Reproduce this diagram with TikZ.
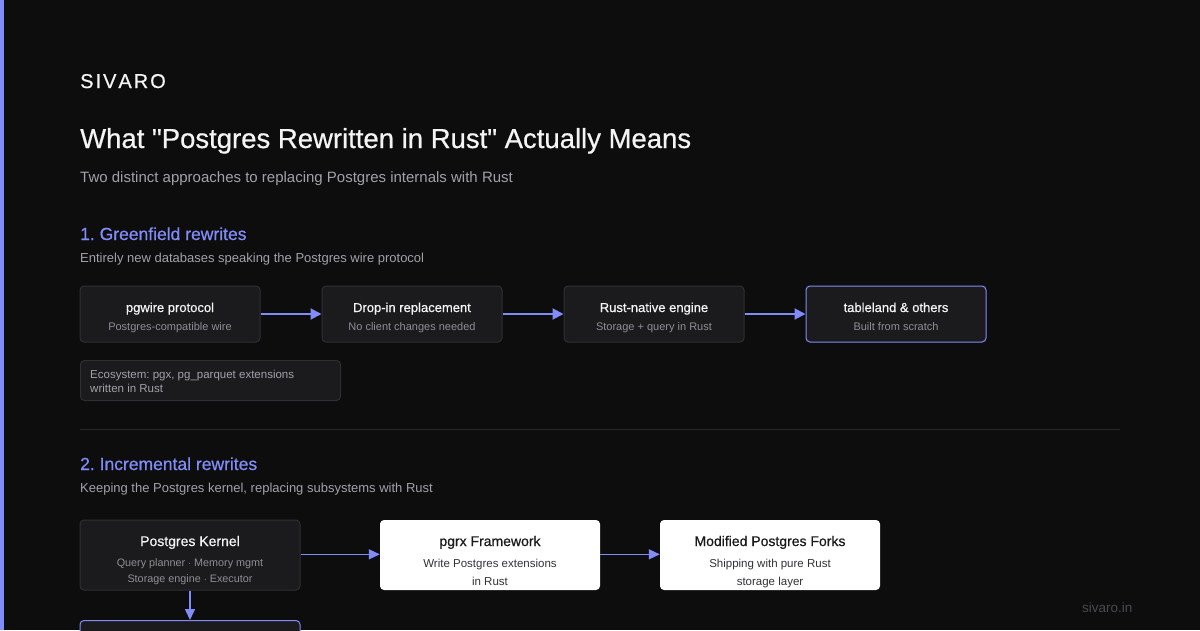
\documentclass[tikz,border=0pt]{standalone}
\usepackage{fontspec}
\setmainfont{Liberation Sans}
\newfontfamily\medfont[FakeBold=0.6]{Liberation Sans}
\usetikzlibrary{arrows.meta}
\frenchspacing
\definecolor{bgdark}{HTML}{0D0D0E}
\definecolor{accent}{HTML}{818CF8}
\definecolor{boxfill}{HTML}{1B1B1E}
\definecolor{boxline}{HTML}{2F2F33}
\definecolor{softwhite}{HTML}{F4F4F5}
\definecolor{mutedgray}{HTML}{A1A1AA}
\definecolor{boxgray}{HTML}{8E8E96}
\definecolor{rulegray}{HTML}{262628}
\definecolor{inktext}{HTML}{1A1A1A}
\definecolor{inksub}{HTML}{333336}
\definecolor{footgray}{HTML}{4A4A4E}
\tikzset{
  txt/.style={anchor=base west, inner sep=0pt},
  ctr/.style={anchor=base, inner sep=0pt},
  gbox/.style={draw=boxline, fill=boxfill, line width=1pt, rounded corners=4pt, inner sep=0pt},
  wbox/.style={fill=white, rounded corners=4pt, inner sep=0pt},
  flow/.style={draw=accent, line width=2pt, -{Triangle[length=11pt,width=11pt]}},
  thinflow/.style={draw=accent, line width=1.5pt, -{Triangle[length=11pt,width=10pt]}}
}
\begin{document}
\begin{tikzpicture}[x=1pt,y=-1pt]
\fill[bgdark] (0,0) rectangle (1200,630);
\useasboundingbox (0,0) rectangle (1200,630);
\clip (0,0) rectangle (1200,630);
\fill[accent] (0,0) rectangle (4,630);
% header
\node[txt, text=softwhite] (brand) at (80,88) {\fontsize{20}{24}\selectfont\medfont S\kern2pt I\kern2pt V\kern2pt A\kern2pt R\kern2pt O};
\node[txt, text=softwhite] (title) at (80,148) {\fontsize{27.5}{32}\selectfont\medfont What "Postgres Rewritten in Rust" Actually Means};
\node[txt, text=mutedgray] (subtitle) at (80,182) {\fontsize{15}{18}\selectfont Two distinct approaches to replacing Postgres internals with Rust};
% section 1
\node[txt, text=accent] (head1) at (80,240) {\fontsize{17.5}{21}\selectfont\medfont 1. Greenfield rewrites};
\node[txt, text=mutedgray] (lead1) at (80,262) {\fontsize{13}{16}\selectfont Entirely new databases speaking the Postgres wire protocol};
\foreach \n/\x/\c/\t/\s in {pgw/170/boxline/pgwire protocol/Postgres-compatible wire,
    dropin/412/boxline/Drop-in replacement/No client changes needed,
    engine/654/boxline/Rust-native engine/Storage + query in Rust,
    tland/896/accent/tableland \& others/Built from scratch}
{
\node[gbox, draw=\c, minimum width=180pt, minimum height=56pt] (\n) at (\x,314) {};
\node[ctr, text=softwhite] at (\x,312) {\fontsize{13}{15}\selectfont\medfont \t};
\node[ctr, text=boxgray] at (\x,330) {\fontsize{11}{13}\selectfont \s};
}
\draw[flow] (pgw.east) -- (dropin.west);
\draw[flow] (dropin.east) -- (engine.west);
\draw[flow] (engine.east) -- (tland.west);
\node[gbox, anchor=north west, minimum width=260pt, minimum height=40pt] (eco) at (80,360) {};
\node[txt, text=mutedgray] at (90,378) {\fontsize{11.5}{14}\selectfont Ecosystem: pgx, pg\_parquet extensions};
\node[txt, text=mutedgray] at (90,392.5) {\fontsize{11.5}{14}\selectfont written in Rust};
\draw[rulegray, line width=1pt] (80,429.5) -- (1120,429.5);
% section 2
\node[txt, text=accent] (head2) at (80,470) {\fontsize{17.5}{21}\selectfont\medfont 2. Incremental rewrites};
\node[txt, text=mutedgray] (lead2) at (80,492) {\fontsize{13}{16}\selectfont Keeping the Postgres kernel, replacing subsystems with Rust};
\node[gbox, minimum width=220pt, minimum height=70pt] (kernel) at (190,555) {};
\node[ctr, text=softwhite] at (190,546) {\fontsize{14}{16}\selectfont\medfont Postgres Kernel};
\node[ctr, text=boxgray] at (190,566) {\fontsize{10.8}{13}\selectfont Query planner $\cdot$ Memory mgmt};
\node[ctr, text=boxgray] at (190,582) {\fontsize{10.8}{13}\selectfont Storage engine $\cdot$ Executor};
\node[wbox, minimum width=220pt, minimum height=70pt] (pgrx) at (490,555) {};
\node[ctr, text=inktext] at (490,546) {\fontsize{14}{16}\selectfont\medfont pgrx Framework};
\node[ctr, text=inksub] at (490,567) {\fontsize{11.5}{14}\selectfont Write Postgres extensions};
\node[ctr, text=inksub] at (490,585) {\fontsize{11.5}{14}\selectfont in Rust};
\node[wbox, minimum width=220pt, minimum height=70pt] (forks) at (770,555) {};
\node[ctr, text=inktext] at (770,546) {\fontsize{14}{16}\selectfont\medfont Modified Postgres Forks};
\node[ctr, text=inksub] at (770,567) {\fontsize{11.5}{14}\selectfont Shipping with pure Rust};
\node[ctr, text=inksub] at (770,585) {\fontsize{11.5}{14}\selectfont storage layer};
\node[gbox, draw=accent, anchor=north, minimum width=220pt, minimum height=70pt] (rustsub) at (190,620) {};
\draw[thinflow] ([yshift=0.7pt]kernel.east) -- ([yshift=0.7pt]pgrx.west);
\draw[thinflow] ([yshift=0.7pt]pgrx.east) -- ([yshift=0.7pt]forks.west);
\draw[thinflow] (kernel.south) -- (rustsub.north);
\node[txt, text=footgray] (site) at (1082,612) {\fontsize{13.5}{16}\selectfont sivaro.in};
\end{tikzpicture}
\end{document}
